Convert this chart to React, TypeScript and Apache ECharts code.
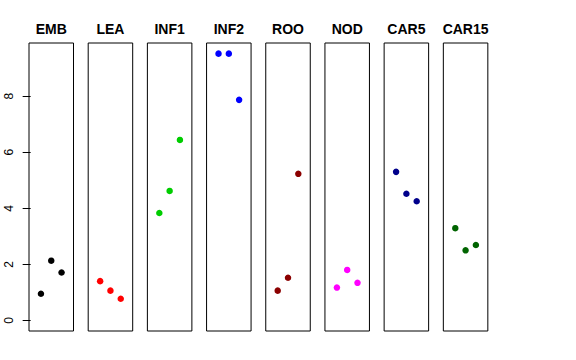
import React, { useEffect, useRef } from "react";
import * as echarts from "echarts";

const panels = ["EMB", "LEA", "INF1", "INF2", "ROO", "NOD", "CAR5", "CAR15"];
const colors = ["#000000", "#FF0000", "#00CD00", "#0000FF", "#8B0000", "#FF00FF", "#00008B", "#006400"];
const xPositions = [1, 2, 3];
const values: number[][] = [
  [0.95, 2.13, 1.71],
  [1.4, 1.06, 0.77],
  [3.83, 4.62, 6.44],
  [9.52, 9.52, 7.87],
  [1.06, 1.52, 5.23],
  [1.17, 1.8, 1.34],
  [5.3, 4.52, 4.25],
  [3.29, 2.5, 2.69],
];
const yTicks = [0, 2, 4, 6, 8];

export default function App() {
  const ref = useRef<HTMLDivElement>(null);
  useEffect(() => {
    if (!ref.current) return;
    const chart = echarts.init(ref.current, undefined, { renderer: "svg" });
    const left0 = 29;
    const step = 59.19;
    const w = 44.5;
    const top = 43;
    const h = 288;
    const grids = panels.map((_, i) => ({
      left: left0 + step * i,
      top,
      width: w,
      height: h,
      show: true,
      borderColor: "#000",
      borderWidth: 1,
      backgroundColor: "transparent",
    }));
    const xAxes = panels.map((_, i) => ({
      type: "value" as const,
      gridIndex: i,
      min: -0.16,
      max: 4.16,
      show: false,
    }));
    const yAxes = panels.map((_, i) => ({
      type: "value" as const,
      gridIndex: i,
      min: -0.38,
      max: 9.9,
      show: i === 0,
      splitLine: { show: false },
      axisLine: { show: false },
      axisTick: {
        show: i === 0,
        length: 8,
        customValues: yTicks,
        lineStyle: { color: "#000", width: 1 },
      },
      axisLabel: {
        show: i === 0,
        customValues: yTicks,
        rotate: 90,
        margin: 14,
        fontSize: 12,
        color: "#000",
        fontFamily: "Liberation Sans, Arial, sans-serif",
      },
    }));
    const series = panels.map((_, i) => ({
      type: "scatter" as const,
      xAxisIndex: i,
      yAxisIndex: i,
      symbol: "circle",
      symbolSize: 6.5,
      itemStyle: { color: colors[i], opacity: 1 },
      data: xPositions.map((x, j) => [x, values[i][j]]),
    }));
    const titles = panels.map((p, i) => ({
      text: p,
      left: left0 + step * i + w / 2,
      top: 22,
      textAlign: "center" as const,
      padding: 0,
      textStyle: {
        fontSize: 14,
        fontWeight: "bold" as const,
        color: "#000",
        fontFamily: "Liberation Sans, Arial, sans-serif",
      },
    }));
    chart.setOption({
      animation: false,
      backgroundColor: "#fff",
      title: titles,
      grid: grids,
      xAxis: xAxes,
      yAxis: yAxes,
      series,
    });
    return () => chart.dispose();
  }, []);
  return <div ref={ref} style={{ width: 576, height: 360, position: "absolute", left: 0, top: 0 }} />;
}
